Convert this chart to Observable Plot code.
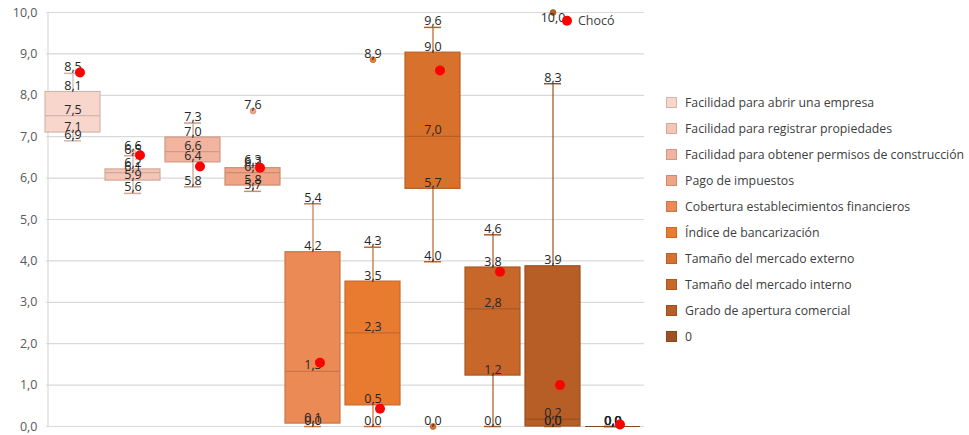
<!DOCTYPE html>
<html>
<head>
<meta charset="utf-8">
<script src="https://cdn.jsdelivr.net/npm/d3@7"></script>
<script src="https://cdn.jsdelivr.net/npm/@observablehq/plot@0.6"></script>
<style>
  body { margin: 0; background: #fff; font-family: "Open Sans", sans-serif; }
  #wrap { position: relative; width: 969px; height: 435px; overflow: hidden; }
  #chart { position: absolute; left: 0; top: 0; }
  #legend { position: absolute; left: 666px; top: 89px; }
  .row { display: flex; align-items: center; height: 26px; font-size: 12.3px; color: #404040; }
  .sw { width: 11px; height: 11px; margin-right: 8px; box-sizing: border-box; }
</style>
</head>
<body>
<div id="wrap"><div id="chart"></div><div id="legend"></div></div>
<script>
const categories = [
  "Facilidad para abrir una empresa",
  "Facilidad para registrar propiedades",
  "Facilidad para obtener permisos de construcción",
  "Pago de impuestos",
  "Cobertura establecimientos financieros",
  "Índice de bancarización",
  "Tamaño del mercado externo",
  "Tamaño del mercado interno",
  "Grado de apertura comercial",
  "0"
];
const colors = ["#F8D6CC", "#F5C6B6", "#F2B49E", "#EFA486", "#EC8A56", "#E97B31", "#D8712C", "#C8672A", "#B65E26", "#9E5223"];
const mins    = [6.9, 5.63, 5.79, 5.68, 0.0, 0.0, 3.98, 0.0, 0.0, 0.0];
const q1s     = [7.1, 5.94, 6.38, 5.82, 0.07, 0.51, 5.74, 1.23, 0.0, 0.0];
const medians = [7.51, 6.13, 6.64, 6.13, 1.33, 2.26, 7.01, 2.84, 0.18, 0.0];
const q3s     = [8.08, 6.21, 6.98, 6.24, 4.21, 3.5, 9.03, 3.84, 3.87, 0.0];
const maxs    = [8.53, 6.54, 7.33, 6.3, 5.38, 4.33, 9.64, 4.63, 8.28, 0.0];
const outlierCat = [1, 3, 5, 6, 8];
const outlierVal = [6.62, 7.62, 8.86, 0.0, 10.0];
const chocoValues = [8.55, 6.55, 6.28, 6.25, 1.54, 0.43, 8.6, 3.74, 1.0, 0.05];
const chocoLabel = "Chocó";
const chocoLabelValue = 9.8;
const yTicks = [0, 1, 2, 3, 4, 5, 6, 7, 8, 9, 10];

const fmt = v => d3.format(".1f")(v).replace(".", ",");
const strokeOf = c => d3.color(c).darker(0.45).formatHex();

const boxes = categories.map((c, i) => ({
  cat: c, fill: colors[i], stroke: strokeOf(colors[i]),
  min: mins[i], q1: q1s[i], med: medians[i], q3: q3s[i], max: maxs[i]
}));
const outliers = outlierCat.map((ci, k) => ({cat: categories[ci], v: outlierVal[k], fill: colors[ci]}));
const labels = [];
boxes.forEach(b => ["max", "q3", "med", "q1", "min"].forEach(k => labels.push({cat: b.cat, v: b[k]})));
outliers.forEach(o => labels.push({cat: o.cat, v: o.v}));
const choco = categories.map((c, i) => ({cat: c, v: chocoValues[i]}));

const chart = Plot.plot({
  width: 650,
  height: 435,
  marginLeft: 41,
  marginRight: 6,
  marginTop: 12,
  marginBottom: 9,
  style: {fontFamily: "Open Sans, sans-serif", fontSize: "12.5px", overflow: "visible"},
  x: {domain: categories, paddingInner: 0.09, paddingOuter: 0.045, axis: null},
  y: {domain: [0, 10], ticks: yTicks, tickFormat: fmt},
  marks: [
    Plot.ruleY(yTicks, {stroke: "#d9d9d9", strokeWidth: 1.2, insetLeft: 5}),
    Plot.ruleX([0], {x: () => categories[0], y1: 0, y2: 10, stroke: "#d9d9d9", strokeWidth: 1.2, dx: -25}),
    Plot.axisY({ticks: yTicks, tickFormat: fmt, tickSize: 0, tickPadding: 4, fill: "#595959", fontSize: 12.5, label: null}),
    Plot.ruleX(boxes, {x: "cat", y1: "min", y2: "max", stroke: "stroke", strokeWidth: 1.2}),
    Plot.tickY(boxes, {x: "cat", y: "max", stroke: "stroke", strokeWidth: 1.5, insetLeft: 19, insetRight: 19}),
    Plot.tickY(boxes, {x: "cat", y: "min", stroke: "stroke", strokeWidth: 1.5, insetLeft: 19, insetRight: 19}),
    Plot.barY(boxes, {x: "cat", y1: "q1", y2: "q3", fill: "fill", stroke: "stroke", strokeWidth: 1.2}),
    Plot.tickY(boxes, {x: "cat", y: "med", stroke: "stroke", strokeWidth: 1.2}),
    Plot.dot(outliers, {x: "cat", y: "v", r: 3, fill: "fill", stroke: d => strokeOf(d.fill), strokeWidth: 0.6, clip: false}),
    Plot.text(labels.filter(d => d.v < 9.95), {x: "cat", y: "v", text: d => fmt(d.v), lineAnchor: "bottom", dy: -2, fill: "#262626", fontSize: 12.5}),
    Plot.text(labels.filter(d => d.v >= 9.95), {x: "cat", y: "v", text: d => fmt(d.v), lineAnchor: "top", dy: 1, fill: "#262626", fontSize: 12.5}),
    Plot.dot(choco, {x: "cat", y: "v", r: 5, fill: "#FF0000", dx: 7}),
    Plot.dot([chocoLabel], {x: () => categories[8], y: () => chocoLabelValue, r: 5, fill: "#FF0000", dx: 14}),
    Plot.text([chocoLabel], {x: () => categories[8], y: () => chocoLabelValue, text: d => d, dx: 25, textAnchor: "start", fill: "#404040", fontSize: 12.5})
  ]
});
document.getElementById("chart").appendChild(chart);

const legend = document.getElementById("legend");
categories.forEach((c, i) => {
  const row = document.createElement("div");
  row.className = "row";
  const sw = document.createElement("div");
  sw.className = "sw";
  sw.style.background = colors[i];
  sw.style.border = "1px solid " + strokeOf(colors[i]);
  const t = document.createElement("span");
  t.textContent = c;
  row.appendChild(sw);
  row.appendChild(t);
  legend.appendChild(row);
});
</script>
</body>
</html>
